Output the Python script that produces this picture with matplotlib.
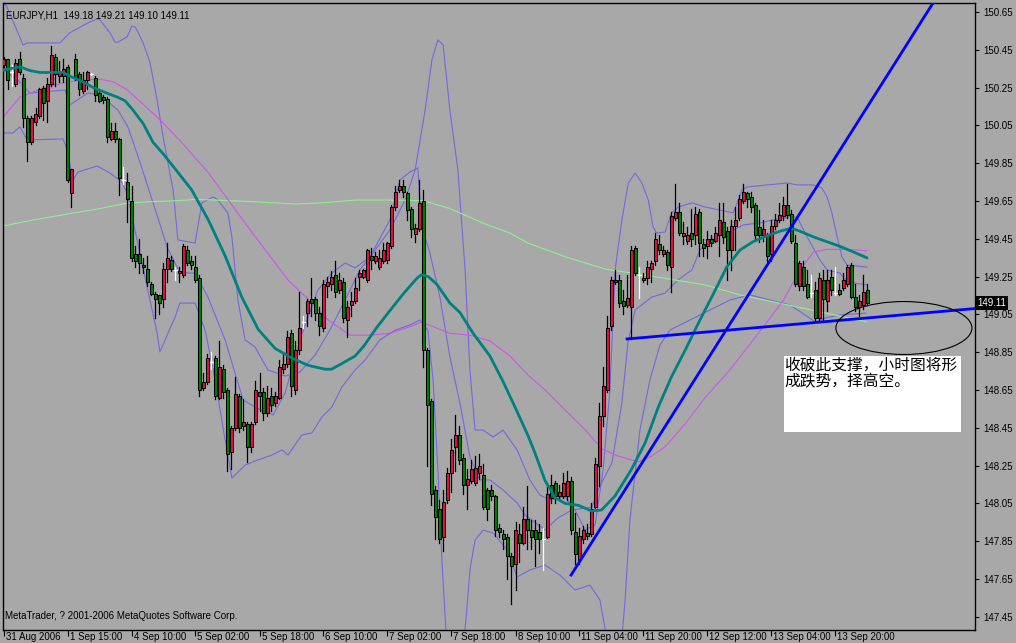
import numpy as np
import matplotlib.pyplot as plt
from matplotlib.patches import Rectangle, Ellipse
import matplotlib.transforms as mtransforms

# ---------------- data (EURJPY H1) ----------------
opens = [150.37, 150.40, 150.33, 150.27, 150.40, 150.30, 150.09, 149.96, 150.07, 150.10,
         150.25, 150.18, 150.27, 150.41, 150.31, 150.31, 150.36, 149.69, 150.40, 150.32,
         150.23, 150.29, 150.32, 150.30, 150.22, 150.20, 150.19, 149.98, 150.02, 149.98,
         149.76, 149.75, 149.65, 149.37, 149.37, 149.31, 149.29, 149.21, 149.16, 149.15,
         149.13, 149.29, 149.34, 149.285, 149.27, 149.26, 149.39, 149.33, 149.30, 149.24,
         148.66, 148.69, 148.80, 148.82, 148.61, 148.76, 148.65, 148.32, 148.45, 148.62,
         148.46, 148.47, 148.35, 148.48, 148.64, 148.64, 148.53, 148.62, 148.58, 148.61,
         148.76, 148.79, 148.95, 148.65, 148.86, 149.01, 149.06, 149.13, 149.13, 149.06,
         148.98, 149.20, 149.21, 149.26, 149.18, 149.22, 149.02, 149.10, 149.12, 149.25,
         149.25, 149.23, 149.36, 149.33, 149.30, 149.33, 149.34, 149.41, 149.62, 149.71,
         149.73, 149.69, 149.61, 149.475, 149.50, 149.65, 148.86, 148.59, 148.12, 148.02,
         147.87, 148.07, 148.21, 148.35, 148.41, 148.29, 148.15, 148.17, 148.16, 148.21,
         148.20, 148.12, 148.12, 148.09, 147.92, 147.89, 147.87, 147.77, 147.73, 147.89,
         147.84, 147.97, 147.91, 147.91, 147.90, 147.86, 147.87, 148.15, 148.16, 148.09,
         148.09, 148.09, 148.17, 147.90, 147.75, 147.86, 147.895, 147.89, 148.03, 148.25,
         148.51, 148.65, 148.99, 149.22, 149.23, 149.12, 149.10, 149.09, 149.40, 149.26,
         149.23, 149.24, 149.29, 149.33, 149.42, 149.37, 149.38, 149.30, 149.56, 149.59,
         149.465, 149.44, 149.48, 149.47, 149.59, 149.42, 149.41, 149.45, 149.44, 149.47,
         149.54, 149.49, 149.39, 149.52, 149.56, 149.65, 149.69, 149.67, 149.63, 149.51,
         149.47, 149.47, 149.37, 149.52, 149.55, 149.57, 149.63, 149.58, 149.43, 149.20,
         149.30, 149.21, 149.165, 149.18, 149.03, 149.23, 149.12, 149.25, 149.165, 149.18,
         149.19, 149.21, 149.31, 149.14, 149.09, 149.10, 149.18]
highs = [150.41, 150.40, 150.37, 150.40, 150.44, 150.32, 150.10, 150.10, 150.14, 150.25,
         150.26, 150.30, 150.47, 150.43, 150.39, 150.40, 150.37, 149.82, 150.43, 150.33,
         150.33, 150.34, 150.325, 150.31, 150.24, 150.21, 150.20, 150.06, 150.06, 149.985,
         149.83, 149.80, 149.73, 149.41, 149.45, 149.35, 149.36, 149.22, 149.17, 149.155,
         149.32, 149.43, 149.36, 149.30, 149.30, 149.42, 149.41, 149.36, 149.36, 149.26,
         148.74, 148.84, 148.85, 148.83, 148.91, 148.78, 148.66, 148.46, 148.72, 148.63,
         148.60, 148.48, 148.48, 148.70, 148.74, 148.66, 148.67, 148.66, 148.64, 148.81,
         148.84, 148.96, 148.97, 148.91, 149.17, 149.04, 149.13, 149.24, 149.14, 149.09,
         149.23, 149.25, 149.28, 149.33, 149.27, 149.24, 149.12, 149.17, 149.24, 149.285,
         149.29, 149.395, 149.40, 149.38, 149.39, 149.43, 149.435, 149.63, 149.73, 149.76,
         149.76, 149.70, 149.62, 149.53, 149.76, 149.71, 148.87, 148.60, 148.14, 148.07,
         148.12, 148.24, 148.39, 148.52, 148.46, 148.31, 148.23, 148.28, 148.30, 148.31,
         148.26, 148.13, 148.15, 148.095, 147.94, 147.91, 147.89, 147.79, 147.95, 147.94,
         148.03, 148.14, 147.96, 147.96, 147.94, 147.92, 148.14, 148.20, 148.17, 148.15,
         148.21, 148.22, 148.19, 148.00, 147.92, 147.93, 147.94, 148.05, 148.29, 148.58,
         148.77, 149.04, 149.25, 149.285, 149.26, 149.18, 149.26, 149.41, 149.41, 149.30,
         149.27, 149.33, 149.335, 149.48, 149.47, 149.41, 149.39, 149.59, 149.74, 149.64,
         149.54, 149.51, 149.61, 149.62, 149.61, 149.45, 149.49, 149.47, 149.51, 149.64,
         149.64, 149.51, 149.55, 149.62, 149.68, 149.74, 149.70, 149.70, 149.64, 149.60,
         149.55, 149.48, 149.55, 149.58, 149.64, 149.67, 149.74, 149.60, 149.47, 149.33,
         149.33, 149.285, 149.26, 149.22, 149.27, 149.285, 149.285, 149.285, 149.30, 149.21,
         149.27, 149.31, 149.32, 149.21, 149.15, 149.26, 149.21]
lows = [150.36, 150.24, 150.26, 150.26, 150.32, 150.04, 149.86, 149.95, 150.05, 150.09,
        150.08, 150.07, 150.26, 150.26, 150.28, 150.28, 149.75, 149.62, 150.29, 150.21,
        150.22, 150.24, 150.315, 150.18, 150.175, 150.17, 149.96, 149.97, 149.96, 149.68,
        149.74, 149.54, 149.33, 149.30, 149.27, 149.27, 149.20, 149.155, 149.03, 149.05,
        149.09, 149.22, 149.28, 149.23, 149.22, 149.25, 149.31, 149.29, 149.22, 148.62,
        148.65, 148.68, 148.76, 148.60, 148.60, 148.61, 148.22, 148.23, 148.44, 148.43,
        148.44, 148.27, 148.32, 148.47, 148.54, 148.49, 148.51, 148.54, 148.565, 148.60,
        148.74, 148.77, 148.62, 148.63, 148.84, 148.98, 148.99, 149.04, 149.02, 148.94,
        148.96, 149.14, 149.18, 149.14, 149.165, 149.01, 148.93, 149.04, 149.11, 149.18,
        149.24, 149.22, 149.29, 149.32, 149.29, 149.32, 149.32, 149.40, 149.60, 149.70,
        149.67, 149.55, 149.46, 149.435, 149.49, 148.77, 148.25, 148.04, 147.86, 147.84,
        147.80, 148.05, 148.11, 148.22, 148.26, 148.10, 148.02, 148.16, 148.15, 148.18,
        148.02, 147.96, 148.07, 147.88, 147.87, 147.81, 147.65, 147.52, 147.59, 147.74,
        147.835, 147.81, 147.81, 147.72, 147.79, 147.70, 147.865, 148.05, 148.05, 148.07,
        148.08, 148.07, 147.89, 147.73, 147.73, 147.84, 147.86, 147.88, 148.025, 148.14,
        148.46, 148.64, 148.97, 149.21, 149.09, 149.05, 149.09, 148.92, 149.26, 149.135,
        149.22, 149.21, 149.22, 149.31, 149.37, 149.36, 149.285, 149.17, 149.55, 149.47,
        149.42, 149.42, 149.41, 149.42, 149.36, 149.36, 149.35, 149.41, 149.435, 149.36,
        149.43, 149.23, 149.285, 149.39, 149.55, 149.64, 149.62, 149.59, 149.45, 149.435,
        149.44, 149.33, 149.33, 149.50, 149.54, 149.55, 149.56, 149.43, 149.20, 149.18,
        149.18, 149.135, 149.14, 149.02, 149.02, 149.02, 149.07, 149.15, 149.15, 149.15,
        149.18, 149.20, 149.135, 149.07, 149.04, 149.08, 149.10]
closes = [150.40, 150.29, 150.33, 150.38, 150.33, 150.09, 149.96, 150.09, 150.11, 150.24,
          150.17, 150.27, 150.42, 150.32, 150.33, 150.35, 149.76, 149.82, 150.30, 150.24,
          150.29, 150.33, 150.32, 150.21, 150.18, 150.185, 149.99, 150.02, 149.98, 149.77,
          149.76, 149.66, 149.35, 149.33, 149.32, 149.30, 149.22, 149.16, 149.13, 149.11,
          149.29, 149.35, 149.29, 149.285, 149.28, 149.41, 149.32, 149.31, 149.23, 148.65,
          148.69, 148.82, 148.80, 148.62, 148.77, 148.64, 148.31, 148.45, 148.63, 148.45,
          148.48, 148.35, 148.47, 148.65, 148.62, 148.53, 148.61, 148.57, 148.62, 148.77,
          148.79, 148.93, 148.67, 148.86, 148.98, 149.01, 149.12, 149.11, 149.06, 148.99,
          149.21, 149.22, 149.25, 149.17, 149.23, 149.03, 149.09, 149.12, 149.19, 149.27,
          149.285, 149.39, 149.34, 149.36, 149.35, 149.39, 149.43, 149.62, 149.70, 149.73,
          149.70, 149.60, 149.50, 149.505, 149.64, 148.86, 148.57, 148.10, 147.98, 147.86,
          148.06, 148.21, 148.33, 148.41, 148.28, 148.15, 148.18, 148.23, 148.24, 148.25,
          148.03, 148.02, 148.09, 147.91, 147.90, 147.86, 147.77, 147.72, 147.91, 147.84,
          147.97, 147.91, 147.87, 147.86, 147.86, 147.86, 148.10, 148.08, 148.09, 148.11,
          148.16, 148.17, 147.91, 147.78, 147.88, 147.91, 147.88, 148.02, 148.26, 148.51,
          148.67, 148.98, 149.23, 149.23, 149.11, 149.095, 149.135, 149.39, 149.27, 149.26,
          149.24, 149.30, 149.32, 149.45, 149.39, 149.39, 149.31, 149.57, 149.59, 149.48,
          149.48, 149.47, 149.45, 149.58, 149.43, 149.40, 149.45, 149.43, 149.48, 149.55,
          149.46, 149.39, 149.52, 149.55, 149.66, 149.70, 149.66, 149.62, 149.47, 149.47,
          149.50, 149.36, 149.52, 149.55, 149.575, 149.63, 149.575, 149.44, 149.21, 149.32,
          149.20, 149.14, 149.165, 149.03, 149.24, 149.13, 149.23, 149.18, 149.165, 149.16,
          149.23, 149.30, 149.14, 149.09, 149.12, 149.17, 149.11]

# moving averages: (bar position, price)
ma_fast_x = [0, 4.1, 6.6, 9.1, 14.9, 16.6, 19.9, 22.4, 25.9, 28.4, 30.4, 32.4, 34.9, 37.4, 39.9,
             42.9, 47.0, 51.2, 55.4, 59.6, 63.7, 67.9, 72.0, 76.2, 80.4, 82.0, 84.6, 87.9, 90.0,
             93.3, 96.6, 100.0, 103.3, 104.5, 106.2, 108.3, 111.6, 114.1, 117.4, 121.6, 125.0,
             128.3, 131.1, 132.9, 135.4, 137.9, 140.4, 143.7, 147.0, 149.5, 152.9, 157.0, 160.4,
             163.7, 167.0, 170.4, 174.1, 177.5, 180.8, 184.1, 187.4, 190.8, 194.1, 197.0, 199.1,
             202.5, 205.8, 209.1, 212.5, 215.8]
ma_fast_y = [150.343, 150.36, 150.34, 150.33, 150.33, 150.31, 150.28, 150.25, 150.22, 150.20,
             150.18, 150.13, 150.06, 149.96, 149.90, 149.82, 149.71, 149.55, 149.36, 149.14,
             148.97, 148.87, 148.82, 148.78, 148.76, 148.76, 148.79, 148.83, 148.88, 148.98,
             149.07, 149.16, 149.24, 149.26, 149.25, 149.21, 149.11, 149.06, 148.95, 148.83,
             148.69, 148.54, 148.41, 148.315, 148.17, 148.08, 148.05, 148.04, 148.01, 148.015,
             148.09, 148.23, 148.37, 148.56, 148.72, 148.86, 149.02, 149.16, 149.30, 149.39,
             149.435, 149.465, 149.49, 149.506, 149.49, 149.46, 149.435, 149.41, 149.38, 149.35]
ma_mid_x = [0, 4.1, 9.1, 14.1, 19.1, 24.1, 27.5, 30.8, 35.0, 39.1, 44.1, 51.2, 56.2, 61.2,
            66.2, 71.2, 76.2, 81.2, 86.6, 91.6, 96.6, 101.6, 104.5, 107.4, 111.6, 116.6, 121.6,
            126.6, 131.1, 135.4, 140.4, 145.4, 149.5, 153.7, 158.7, 162.0, 165.4, 170.4, 175.4,
            181.6, 185.4, 190.0, 195.0, 199.1, 202.5, 205.8, 210.8, 215.8]
ma_mid_y = [150.096, 150.20, 150.24, 150.27, 150.29, 150.294, 150.28, 150.24, 150.16, 150.08,
            149.97, 149.80, 149.655, 149.51, 149.37, 149.23, 149.13, 149.02, 148.94, 148.94,
            148.95, 148.985, 149.01, 148.985, 148.95, 148.94, 148.91, 148.83, 148.73, 148.65,
            148.544, 148.44, 148.34, 148.30, 148.27, 148.30, 148.35, 148.47, 148.61, 148.756,
            148.86, 148.985, 149.126, 149.285, 149.38, 149.394, 149.394, 149.387]
ma_slow_x = [0, 7.5, 15.8, 24.1, 30.8, 36.6, 44.1, 47.9, 62.9, 72.9, 80.4, 87.9, 94.9, 105.0,
             111.6, 120.0, 126.6, 131.1, 140.4, 150.4, 160.4, 167.9, 175.4, 184.1, 194.1, 204.1,
             215.8]
ma_slow_y = [149.518, 149.55, 149.58, 149.61, 149.638, 149.646, 149.652, 149.659, 149.646,
             149.634, 149.641, 149.655, 149.655, 149.652, 149.61, 149.532, 149.48, 149.428,
             149.355, 149.29, 149.258, 149.232, 149.206, 149.153, 149.109, 149.064, 149.01]

# bollinger style envelopes: (bar position, price)
band_up_x = [-0.1, 0.6, 4.9, 5.9, 14.1, 16.6, 20.9, 23.4, 24.1, 26.6, 27.9, 28.6, 30.9, 32.1,
             32.9, 33.6, 34.9, 36.6, 38.4, 39.9, 42.4, 43.6, 47.9, 49.6, 52.4, 53.4, 56.1, 57.1,
             58.6, 60.4, 62.9, 66.1, 70.4, 74.1, 77.9, 81.6, 85.4, 89.1, 92.9, 96.6, 100.4,
             102.9, 105.4, 107.1, 108.6, 109.9, 111.6, 113.6, 115.4, 116.6, 117.9, 119.9, 122.4,
             124.9, 128.4, 131.6, 134.1, 136.6, 140.4, 142.9, 145.4, 147.9, 149.9, 151.6, 152.9,
             154.6, 156.2, 157.9, 159.6, 161.2, 162.4, 163.3, 165.4, 167.0, 168.7, 172.1, 175.4,
             182.4, 183.4, 184.6, 185.9, 190.9, 196.1, 198.4, 202.4, 204.6, 205.9, 207.1, 208.4,
             209.6, 210.9, 215.9]
band_up_y = [150.69, 150.69, 150.475, 150.486, 150.486, 150.54, 150.59, 150.613, 150.608,
             150.54, 150.49, 150.49, 150.518, 150.576, 150.57, 150.544, 150.486, 150.385,
             150.184, 149.989, 149.708, 149.444, 149.428, 149.64, 149.671, 149.66, 149.586,
             149.46, 149.126, 148.915, 148.877, 148.756, 148.724, 148.745, 148.835, 148.967,
             149.126, 149.285, 149.39, 149.497, 149.655, 149.814, 150.131, 150.396, 150.502,
             150.475, 150.131, 149.814, 149.285, 148.756, 148.438, 148.438, 148.401, 148.438,
             148.333, 148.174, 148.094, 148.068, 148.084, 148.015, 147.909, 147.936, 148.227,
             148.65, 149.285, 149.55, 149.745, 149.798, 149.745, 149.655, 149.512, 149.48,
             149.486, 149.587, 149.618, 149.64, 149.618, 149.587, 149.64, 149.708, 149.724,
             149.735, 149.745, 149.735, 149.735, 149.719, 149.671, 149.587, 149.46, 149.354,
             149.311, 149.30]
band_mid_x = [-0.1, 4.1, 6.6, 15.4, 16.6, 21.1, 24.1, 28.6, 31.1, 34.1, 37.4, 40.9, 44.1, 47.9,
              51.1, 55.4, 59.9, 62.9, 67.4, 70.4, 74.1, 78.6, 82.1, 85.4, 87.9, 91.6, 96.6,
              99.1, 101.6, 103.6, 104.5, 106.6, 109.1, 111.6, 114.1, 116.6, 119.1, 121.6, 124.9,
              128.4, 130.4, 135.4, 138.6, 142.1, 147.1, 148.6, 152.1, 154.6, 156.1, 157.9, 162.1,
              165.4, 168.6, 172.1, 174.1, 177.4, 180.9, 184.9, 189.1, 192.4, 196.6, 198.4, 200.9,
              204.1, 205.9, 209.1, 210.9, 215.9]
band_mid_y = [150.343, 150.28, 150.221, 150.237, 150.158, 150.221, 150.211, 150.131, 150.042,
              149.856, 149.64, 149.407, 149.269, 149.269, 149.142, 148.915, 148.597, 148.56,
              148.518, 148.634, 148.915, 149.179, 149.269, 149.322, 149.296, 149.354, 149.55,
              149.761, 149.803, 149.825, 149.523, 149.375, 149.142, 148.825, 148.581, 148.296,
              148.174, 148.174, 148.121, 148.052, 147.989, 147.909, 147.973, 148.015, 148.031,
              148.121, 148.264, 148.581, 148.899, 149.073, 149.142, 149.163, 149.232, 149.285,
              149.391, 149.454, 149.481, 149.523, 149.534, 149.55, 149.565, 149.565, 149.46,
              149.338, 149.285, 149.269, 149.221, 149.206]
band_lo_x = [-0.1, 2.4, 4.1, 5.9, 14.9, 15.9, 17.4, 18.6, 23.4, 26.6, 29.6, 30.9, 33.4, 35.9,
             38.4, 39.1, 40.4, 42.9, 44.1, 47.9, 50.4, 52.9, 55.4, 57.1, 60.4, 63.6, 67.1, 69.6,
             71.1, 74.6, 77.1, 79.6, 82.1, 84.6, 87.9, 90.4, 94.1, 97.9, 101.6, 104.1, 106.1,
             107.4, 108.6, 109.6, 110.6, 111.6, 114.6, 115.6, 116.6, 117.9, 119.9, 122.4, 125.9,
             128.4, 131.6, 135.4, 139.1, 142.9, 146.6, 149.1, 150.9, 152.1, 154.1, 155.4, 156.6,
             159.1, 161.6, 164.1, 166.6, 171.6, 176.6, 181.6, 186.6, 191.6, 196.6, 200.4, 202.9,
             205.4, 209.1, 215.6]
band_lo_y = [150.01, 150.01, 150.042, 149.973, 149.978, 149.92, 149.761, 149.803, 149.835,
             149.798, 149.75, 149.692, 149.444, 149.195, 148.952, 148.851, 148.915, 149.036,
             149.11, 149.11, 148.967, 148.703, 148.385, 148.184, 148.253, 148.28, 148.306,
             148.333, 148.306, 148.412, 148.423, 148.507, 148.56, 148.666, 148.756, 148.809,
             148.915, 148.967, 148.994, 149.02, 148.967, 148.703, 148.227, 147.751, 147.38,
             147.22, 147.22, 147.433, 147.698, 147.856, 147.909, 147.893, 147.804, 147.661,
             147.698, 147.724, 147.671, 147.592, 147.618, 147.539, 147.327, 147.22, 147.22,
             147.539, 147.962, 148.438, 148.703, 148.888, 148.967, 149.02, 149.073, 149.126,
             149.153, 149.126, 149.1, 149.047, 149.01, 149.031, 149.047, 149.057]

price_ticks = [147.45, 147.65, 147.85, 148.05, 148.25, 148.45, 148.65, 148.85, 149.05,
               149.25, 149.45, 149.65, 149.85, 150.05, 150.25, 150.45, 150.65]
time_ticks = [0, 16, 32, 48, 64, 80, 96, 112, 128, 144, 160, 176, 192, 208]
time_labels = ["31 Aug 2006", "1 Sep 15:00", "4 Sep 10:00", "5 Sep 02:00", "5 Sep 18:00",
               "6 Sep 10:00", "7 Sep 02:00", "7 Sep 18:00", "8 Sep 10:00", "11 Sep 04:00",
               "11 Sep 20:00", "12 Sep 12:00", "13 Sep 04:00", "13 Sep 20:00"]

# trend lines drawn on the chart: (bar, price) end points
trend_up = [(141.9, 147.671), (232.4, 150.698)]
support = [(155.9, 148.92), (242.9, 149.081)]
note = "收破此支撑，小时图将形\n成跌势，择高空。"

# ---------------- figure ----------------
bg = "#a8a8a8"
W, H = 1016, 643
font = "Liberation Sans"
fig = plt.figure(figsize=(W / 100, H / 100), dpi=100, facecolor=bg)
ax = fig.add_axes([2.5 / W, (H - 629.5) / H, (975 - 2.5) / W, (629.5 - 2.5) / H], facecolor=bg)
ax.set_xlim(-0.25, 242.875)
ax.set_ylim(147.383, 150.700)

# envelopes
band_col = "#7468e0"
ax.plot(band_up_x, band_up_y, color=band_col, lw=0.8, zorder=2)
ax.plot(band_mid_x, band_mid_y, color=band_col, lw=0.8, zorder=2)
ax.plot(band_lo_x, band_lo_y, color=band_col, lw=0.8, zorder=2)

# moving averages
ax.plot(ma_slow_x, ma_slow_y, color="#90ee90", lw=0.8, zorder=2)
ax.plot(ma_mid_x, ma_mid_y, color="#cc55ee", lw=0.8, zorder=2)
ax.plot(ma_fast_x, ma_fast_y, color="#008080", lw=2.0, zorder=4)

# candles
for i in range(len(closes)):
    o, h, l, c = opens[i], highs[i], lows[i], closes[i]
    if abs(c - o) < 1e-9:
        ax.plot([i, i], [l, h], color="white", lw=0.9, zorder=3)
        ax.plot([i - 0.4, i + 0.4], [c, c], color="white", lw=0.9, zorder=3)
        continue
    ax.plot([i, i], [l, h], color="black", lw=0.9, zorder=3)
    col = "#dc143c" if c > o else "#008000"
    ax.add_patch(Rectangle((i - 0.3, min(o, c)), 0.6, abs(c - o), facecolor=col,
                           edgecolor="black", lw=0.75, zorder=3))

# trend lines
ax.plot([p[0] for p in trend_up], [p[1] for p in trend_up], color="#0000ff", lw=2.0, zorder=5)
ax.plot([p[0] for p in support], [p[1] for p in support], color="#0000ff", lw=2.0, zorder=5)

# ellipse and note
ax.add_patch(Ellipse((225.1, 148.978), 34, 0.28, fill=False, edgecolor="black", lw=0.8, zorder=6))
ax.add_patch(Rectangle((195.1, 148.428), 44.3, 0.402, facecolor="white", edgecolor="none", zorder=6))
ax.text(195.2, 148.83, note, fontsize=11.3, va="top", ha="left", linespacing=1.0,
        family=["Noto Sans CJK SC", "DejaVu Sans"], zorder=7)

# axes styling
for s in ax.spines.values():
    s.set_color("black")
    s.set_linewidth(1.0)
ax.yaxis.tick_right()
ax.set_yticks(price_ticks)
ax.set_yticklabels([f"{v:.2f}" for v in price_ticks], family=font)
ax.tick_params(axis="y", direction="out", length=3, width=0.8, pad=3, labelsize=7)
ax.set_xticks(time_ticks)
ax.set_xticklabels([])
ax.tick_params(axis="x", direction="out", length=4, width=0.8)
xt = mtransforms.blended_transform_factory(ax.transData, fig.transFigure)
for t, lab in zip(time_ticks, time_labels):
    ax.text(t, 1.5 / H, lab, transform=xt + mtransforms.ScaledTranslation(2 / 100, 0, fig.dpi_scale_trans),
            fontsize=7, family=font, va="bottom", ha="left", clip_on=False)

# last price marker
last = closes[-1]
tr = mtransforms.blended_transform_factory(ax.transAxes, ax.transData)
ax.text(1.002, last, f"{last:.2f}", transform=tr, fontsize=7, family=font, color="white",
        va="center", ha="left", bbox=dict(facecolor="black", edgecolor="none", pad=1.5),
        zorder=8, clip_on=False)

ax.text(0.004, 0.987, "EURJPY,H1  %.2f %.2f %.2f %.2f" % (opens[-1], highs[-1], lows[-1], closes[-1]),
        transform=ax.transAxes, fontsize=7, family=font, va="top", ha="left")
ax.text(0.003, 0.013, "MetaTrader, ? 2001-2006 MetaQuotes Software Corp.", transform=ax.transAxes,
        fontsize=7, family=font, va="bottom", ha="left")

fig.savefig("out.png", dpi=100, facecolor=bg)
